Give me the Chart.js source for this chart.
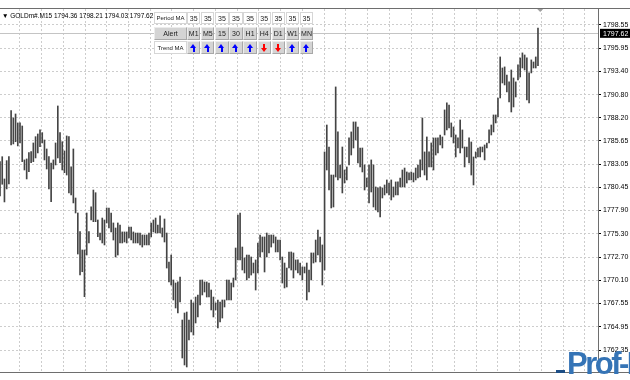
<!DOCTYPE html>
<html>
<head>
<meta charset="utf-8">
<script src="https://cdn.jsdelivr.net/npm/chart.js@4.4.0/dist/chart.umd.min.js"></script>
<style>
  html, body { margin: 0; padding: 0; background: #fff; width: 630px; height: 380px; overflow: hidden; }
  #wrap { position: relative; width: 630px; height: 380px; font-family: "Liberation Sans", Arial, sans-serif; overflow: hidden; }
  #chart { position: absolute; left: 0; top: 0; }
  #header { position: absolute; left: 2px; top: 11px; font-size: 6.5px; color: #000; white-space: nowrap; line-height: 9px; }
  .cell { position: absolute; box-sizing: border-box; font-size: 7px; line-height: 1; display: flex; align-items: center; justify-content: center; color: #222; white-space: nowrap; overflow: hidden; }
  .plain { background: #fff; border: 1px solid #d6d6d6; }
  .btn { background: #d4d4d4; border: 1px solid #ececec; border-right-color: #a8a8a8; border-bottom-color: #a8a8a8; }
  .arrow { position: relative; width: 7px; height: 8px; }
  .arrow .head { position: absolute; left: 0; width: 0; height: 0; border-left: 3.5px solid transparent; border-right: 3.5px solid transparent; }
  .arrow .stem { position: absolute; left: 2.5px; width: 2px; height: 4px; }
  .up .head { top: 0; border-bottom: 4px solid #0000ff; }
  .up .stem { top: 4px; background: #0000ff; }
  .down .head { bottom: 0; border-top: 4px solid #ff0000; }
  .down .stem { top: 0; background: #ff0000; }
  #logo { position: absolute; left: 567px; top: 348px; font-size: 31px; font-weight: bold; color: #3574b6; letter-spacing: -2.5px; font-family: "Liberation Sans", Arial, sans-serif; line-height: 31px; white-space: nowrap; }
  #logobar { position: absolute; left: 556px; top: 370px; width: 9px; height: 3px; background: #1d4f86; }
</style>
</head>
<body>
<div id="wrap">
  <canvas id="chart" width="630" height="380"></canvas>
  <div id="header"></div>
  <div id="panel"></div>
  <div id="logobar"></div>
  <div id="logo">Prof-F</div>
</div>
<script>
// GOLDm#.M15 bars (oldest first)
const highs = [
  1783.33, 1783.88, 1781.40, 1783.44, 1783.88, 1789.01, 1788.19, 1788.64, 1787.64, 1787.64,
  1787.30, 1783.52, 1783.63, 1784.33, 1784.44, 1785.41, 1786.11, 1786.41, 1786.86, 1786.56,
  1785.74, 1784.74, 1783.88, 1783.18, 1783.52, 1785.41, 1789.53, 1786.56, 1785.55, 1784.52,
  1786.19, 1786.11, 1782.74, 1784.74, 1779.28, 1777.61, 1775.53, 1773.49, 1773.49, 1777.61,
  1775.53, 1778.31, 1780.17, 1779.87, 1776.83, 1775.38, 1777.05, 1776.83,
  1778.17, 1778.17, 1777.61, 1776.50, 1775.94, 1776.50, 1776.27, 1775.50, 1775.50, 1775.50,
  1776.05, 1776.05, 1775.50, 1775.38, 1775.38, 1775.38, 1775.16, 1775.16, 1775.16, 1775.38,
  1776.50, 1776.83, 1777.05, 1776.27, 1777.28, 1775.94, 1776.94, 1775.38, 1772.15, 1772.93,
  1770.15, 1769.81, 1769.93, 1770.48, 1765.69, 1766.47, 1766.58, 1765.69, 1767.92, 1767.59,
  1768.25, 1768.48, 1770.15, 1770.15, 1769.93, 1769.93, 1769.81,
  1769.03, 1768.25, 1767.59, 1767.92, 1767.70, 1767.92, 1767.92, 1770.15, 1770.15, 1769.81,
  1770.37, 1773.71, 1777.39, 1777.61, 1773.82, 1772.60, 1772.93, 1772.93, 1772.71, 1772.04,
  1772.38, 1774.27, 1775.16, 1774.94, 1774.94, 1775.38, 1775.16, 1775.16, 1775.16, 1774.94,
  1774.60, 1774.60, 1772.71, 1772.04, 1771.48, 1773.27, 1773.27, 1773.16, 1772.38, 1772.38,
  1772.04, 1771.60, 1771.60, 1772.04, 1771.26, 1773.16, 1773.16, 1774.60, 1775.72,
  1774.94, 1774.05, 1784.41,
  1787.41, 1784.96, 1781.84, 1781.84, 1791.65, 1786.64, 1782.96, 1784.96, 1782.40, 1782.74,
  1785.97, 1786.64, 1787.75, 1787.75, 1787.19, 1784.85, 1784.85, 1782.96, 1781.51, 1782.96,
  1783.52, 1782.96, 1780.51, 1780.40, 1780.51, 1780.40, 1780.73, 1781.29, 1780.95, 1781.29,
  1780.51, 1781.07, 1781.07, 1781.51, 1782.40, 1782.62, 1782.18, 1782.07, 1782.18, 1782.07,
  1782.62, 1782.96, 1783.52, 1788.19,
  1784.41, 1786.08, 1784.41, 1785.41, 1785.97, 1785.97, 1785.97, 1786.30, 1786.08, 1789.09,
  1789.87, 1789.64, 1787.64, 1787.19, 1786.30, 1785.97, 1787.97, 1786.86, 1784.96, 1784.96,
  1785.97, 1785.52, 1783.85, 1784.41, 1784.85, 1784.96, 1784.96, 1785.19, 1785.41, 1786.86,
  1787.41, 1788.53, 1788.53, 1790.42, 1794.99, 1793.76, 1793.88, 1792.98, 1792.21, 1793.54,
  1792.65, 1792.21, 1794.10, 1794.88, 1795.44, 1795.21, 1794.88, 1793.21, 1794.66, 1794.43,
  1794.99, 1798.21
];
const lows = [
  1779.51, 1780.81, 1778.84, 1780.29, 1780.84, 1785.19, 1785.30, 1785.55, 1785.08, 1785.41,
  1783.33, 1782.40, 1781.40, 1782.21, 1783.21, 1783.33, 1783.74, 1784.30, 1785.00, 1785.41,
  1783.52, 1782.51, 1780.29, 1778.87, 1782.51, 1782.96, 1783.74, 1783.21, 1782.40, 1782.10,
  1781.84, 1779.84, 1779.62, 1778.73, 1777.61, 1773.04, 1770.70, 1771.07, 1768.29, 1772.93,
  1774.27, 1776.83, 1776.64, 1776.64, 1774.97, 1774.60, 1774.27, 1774.05,
  1776.50, 1775.94, 1775.50, 1774.60, 1772.71, 1772.93, 1774.27, 1774.27, 1774.38, 1774.27,
  1774.83, 1774.60, 1774.27, 1774.27, 1774.27, 1774.05, 1773.82, 1774.05, 1774.05, 1774.05,
  1774.94, 1775.50, 1775.38, 1775.38, 1775.38, 1774.94, 1774.38, 1771.48, 1769.93, 1769.59,
  1767.92, 1767.03, 1766.47, 1767.70, 1761.46, 1760.68, 1760.46, 1763.46, 1764.36, 1764.02,
  1765.36, 1766.03, 1767.36, 1768.48, 1768.81, 1768.25, 1768.25,
  1766.81, 1766.03, 1766.81, 1764.80, 1765.47, 1765.91, 1767.14, 1767.92, 1767.92, 1767.92,
  1769.37, 1770.15, 1772.38, 1772.38, 1771.26, 1770.93, 1770.15, 1770.37, 1770.70, 1770.93,
  1769.03, 1770.93, 1772.71, 1773.27, 1771.04, 1772.71, 1773.16, 1773.82, 1774.27, 1773.27,
  1773.27, 1772.38, 1769.81, 1769.26, 1769.37, 1771.48, 1771.26, 1770.37, 1771.26, 1770.93,
  1770.70, 1770.15, 1770.93, 1767.92, 1768.81, 1770.15, 1772.04, 1772.15, 1772.93,
  1772.15, 1769.59, 1771.26,
  1782.40, 1780.17, 1778.17, 1778.28, 1781.62, 1781.29, 1781.51, 1779.84, 1780.95, 1781.29,
  1782.96, 1784.07, 1784.85, 1785.74, 1783.18, 1782.74, 1782.18, 1780.17, 1780.51, 1778.73,
  1779.95, 1778.28, 1777.95, 1777.72, 1777.17, 1779.28, 1779.62, 1779.84, 1779.62, 1779.06,
  1779.39, 1779.62, 1779.62, 1780.51, 1780.51, 1780.51, 1780.95, 1781.29, 1781.29, 1781.07,
  1781.29, 1781.51, 1781.62, 1782.40,
  1781.84, 1781.29, 1782.74, 1782.74, 1782.40, 1784.07, 1784.30, 1785.19, 1784.85, 1786.30,
  1786.86, 1787.08, 1786.08, 1785.41, 1783.85, 1784.85, 1784.30, 1784.85, 1782.74, 1783.85,
  1783.18, 1781.84, 1780.73, 1783.74, 1783.85, 1783.85, 1784.41, 1783.52, 1784.85, 1785.41,
  1786.30, 1786.64, 1787.64, 1788.31, 1790.42, 1792.09, 1791.87, 1791.09, 1789.98, 1788.86,
  1789.42, 1790.53, 1792.43, 1792.76, 1793.76, 1793.54, 1790.20, 1789.87, 1793.21, 1793.76,
  1793.76, 1794.03
];

// last bar shown in the header: open, high, low, close
const symbol = 'GOLDm#.M15';
const lastOHLC = [1794.36, 1798.21, 1794.03, 1797.62];

// price scale labels on the right
const priceTicks = [1798.55, 1795.95, 1793.40, 1790.80, 1788.20, 1785.65, 1783.05,
  1780.45, 1777.90, 1775.30, 1772.70, 1770.10, 1767.55, 1764.95, 1762.35];

// indicator panel
const periods = [35, 35, 35, 35, 35, 35, 35, 35, 35];
const timeframes = ['M1', 'M5', '15', '30', 'H1', 'H4', 'D1', 'W1', 'MN'];
const trends = ['up', 'up', 'up', 'up', 'up', 'down', 'down', 'up', 'up'];

const slotCount = 270;          // bar slots across the plot, the rest is right margin
const labels = [];
for (let i = 0; i < slotCount; i++) labels.push(i);
const ranges = highs.map((h, i) => [lows[i], h]);
const currentPrice = lastOHLC[3];

// header text
document.getElementById('header').textContent =
  '\u25BC ' + symbol + '  ' + lastOHLC.map(v => v.toFixed(2)).join(' ');

// panel
const panel = document.getElementById('panel');
function addCell(cls, x, y, w, h, html, size) {
  const d = document.createElement('div');
  d.className = 'cell ' + cls;
  d.style.left = x + 'px';
  d.style.top = y + 'px';
  d.style.width = w + 'px';
  d.style.height = h + 'px';
  if (size) d.style.fontSize = size + 'px';
  d.innerHTML = html;
  panel.appendChild(d);
}
const col0 = 154, colW = 33, cellX = 187, cellStep = 14.1, cellW = 13.4;
addCell('plain', col0, 12, colW, 12, 'Period MA', 6);
addCell('btn', col0, 27, colW, 13, 'Alert', 7);
addCell('plain', col0, 41, colW, 13, 'Trend MA', 6);
periods.forEach((p, k) => addCell('plain', cellX + k * cellStep, 12, cellW, 12, String(p), 7));
timeframes.forEach((t, k) => addCell('btn', cellX + k * cellStep, 27, cellW, 13, t, 7));
trends.forEach((t, k) => addCell('btn', cellX + k * cellStep, 41, cellW, 13,
  '<div class="arrow ' + t + '"><div class="head"></div><div class="stem"></div></div>'));

const overlay = {
  id: 'overlay',
  beforeDatasetsDraw(chart) {
    const { ctx, chartArea: a, scales: { y } } = chart;
    const py = Math.round(y.getPixelForValue(currentPrice)) + 0.5;
    ctx.save();
    ctx.strokeStyle = '#c4c4c4';
    ctx.lineWidth = 1;
    ctx.beginPath();
    ctx.moveTo(a.left, py);
    ctx.lineTo(a.right, py);
    ctx.stroke();
    ctx.restore();
  },
  afterDraw(chart) {
    const { ctx, chartArea: a, scales: { x, y } } = chart;
    ctx.save();
    // frame
    ctx.strokeStyle = '#6e6e6e';
    ctx.lineWidth = 1;
    ctx.beginPath();
    ctx.moveTo(0, a.top - 0.5);
    ctx.lineTo(630, a.top - 0.5);
    ctx.moveTo(Math.round(a.right) + 0.5, a.top);
    ctx.lineTo(Math.round(a.right) + 0.5, a.bottom);
    ctx.moveTo(0, Math.round(a.bottom) + 0.5);
    ctx.lineTo(630, Math.round(a.bottom) + 0.5);
    ctx.stroke();
    // shift marker
    const sx = x.getPixelForValue(highs.length);
    ctx.fillStyle = '#a0a0a0';
    ctx.beginPath();
    ctx.moveTo(sx - 3, a.top);
    ctx.lineTo(sx + 3, a.top);
    ctx.lineTo(sx, a.top + 3);
    ctx.closePath();
    ctx.fill();
    // bid label
    const py = y.getPixelForValue(currentPrice);
    ctx.fillStyle = '#000';
    ctx.fillRect(a.right + 2, py - 4.5, 630 - a.right - 2, 9);
    ctx.fillStyle = '#fff';
    ctx.font = '7px "Liberation Sans", Arial, sans-serif';
    ctx.textBaseline = 'middle';
    ctx.fillText(currentPrice.toFixed(2), a.right + 5, py + 0.5);
    ctx.restore();
  }
};

new Chart(document.getElementById('chart'), {
  type: 'bar',
  data: {
    labels: labels,
    datasets: [{
      data: ranges,
      backgroundColor: '#444',
      borderWidth: 0,
      barThickness: 1,
      grouped: false
    }]
  },
  options: {
    responsive: false,
    animation: false,
    events: [],
    layout: { padding: { top: 9, bottom: 8, left: 0, right: 0 } },
    plugins: { legend: { display: false }, tooltip: { enabled: false } },
    scales: {
      x: {
        type: 'category',
        offset: false,
        display: false
      },
      xg: {
        type: 'linear',
        position: 'bottom',
        min: -0.885,
        max: 25.575,
        afterBuildTicks(scale) {
          const t = [];
          for (let k = 0; k <= 25; k++) t.push({ value: k });
          scale.ticks = t;
        },
        ticks: { display: false },
        grid: { color: '#cdcdcd', drawTicks: false, lineWidth: 1 },
        border: { display: false, dash: [2, 2] },
        afterFit(scale) { scale.height = 0; }
      },
      y: {
        position: 'right',
        min: 1759.90,
        max: 1800.33,
        afterBuildTicks(scale) {
          scale.ticks = priceTicks.map(v => ({ value: v }));
        },
        afterFit(scale) { scale.width = 32; },
        ticks: {
          color: '#000',
          padding: 2,
          font: { size: 7, family: '"Liberation Sans", Arial, sans-serif' },
          callback: v => Number(v).toFixed(2)
        },
        grid: { color: '#cdcdcd', tickColor: '#000', tickLength: 3, lineWidth: 1, tickBorderDash: [] },
        border: { display: false, dash: [2, 2] }
      }
    }
  },
  plugins: [overlay]
});
</script>
</body>
</html>
